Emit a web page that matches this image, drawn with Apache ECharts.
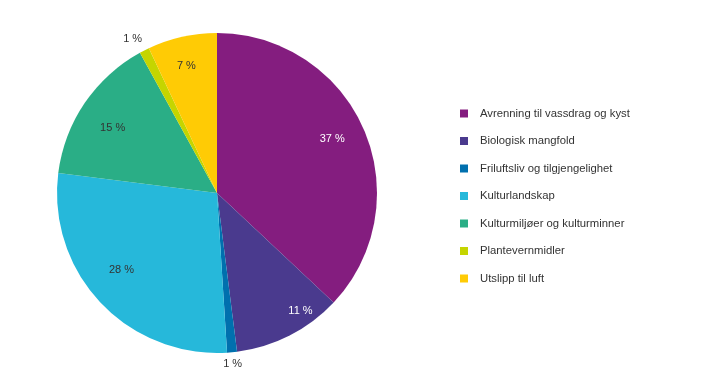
<!DOCTYPE html>
<html><head><meta charset="utf-8">
<script src="https://cdn.jsdelivr.net/npm/echarts@6/dist/echarts.min.js"></script>
<style>html,body{margin:0;padding:0;background:#fff}#c{width:719px;height:383px}</style>
</head><body><div id="c"></div>
<script>
const categories = ["Avrenning til vassdrag og kyst","Biologisk mangfold","Friluftsliv og tilgjengelighet","Kulturlandskap","Kulturmiljøer og kulturminner","Plantevernmidler","Utslipp til luft"];
const values = [37, 11, 1, 28, 15, 1, 7];
const colors = ["#841d7f","#4a3a8e","#0070ae","#26b8da","#2aae86","#c5d500","#ffcb05"];
const labelColors = ["#ffffff","#ffffff","#333333","#333333","#333333","#333333","#333333"];
const outsideLabel = [false,false,true,false,false,true,false];
// small label nudges (style only)
const labelNudge = [[-5,-2],[24,1],[-1,-5],[0,-13],[4,9],[-4,4],[-2,1]];

const font = "Liberation Sans";
const chart = echarts.init(document.getElementById('c'), null, {renderer:'canvas'});
const fmt = p => Math.round(p.value) + ' %';
const nudge = p => ({dx: labelNudge[p.dataIndex][0], dy: labelNudge[p.dataIndex][1]});
const base = {
  type:'pie', center:[217,193], startAngle:90, clockwise:true, animation:false,
  labelLine:{show:false}
};
chart.setOption({
  backgroundColor:'#fff',
  color: colors,
  legend:{
    orient:'vertical', left:455, top:103, itemWidth:8, itemHeight:8, itemGap:16.5,
    icon:'rect',
    textStyle:{fontFamily:font, fontSize:11.3, color:'#333', padding:[0,0,0,7]},
    data: categories
  },
  series:[
    Object.assign({}, base, {
      name:'main', radius:[0,160],
      label:{show:false},
      data: categories.map((n,i)=>({name:n, value:values[i], itemStyle:{color:colors[i]}}))
    }),
    Object.assign({}, base, {
      name:'inner-labels', radius:[0,256], silent:true, legendHoverLink:false,
      label:{show:true, position:'inside', rotate:0, formatter:fmt, fontFamily:font, fontSize:11},
      labelLayout: nudge,
      data: categories.map((n,i)=>({name:n, value:values[i],
        itemStyle:{color:'rgba(0,0,0,0)'},
        label:{show:!outsideLabel[i], color:labelColors[i]}}))
    }),
    Object.assign({}, base, {
      name:'outer-labels', radius:[0,348], silent:true, legendHoverLink:false,
      label:{show:true, position:'inside', rotate:0, formatter:fmt, fontFamily:font, fontSize:11},
      labelLayout: nudge,
      data: categories.map((n,i)=>({name:n, value:values[i],
        itemStyle:{color:'rgba(0,0,0,0)'},
        label:{show:outsideLabel[i], color:'#333'}}))
    })
  ]
});
</script></body></html>
